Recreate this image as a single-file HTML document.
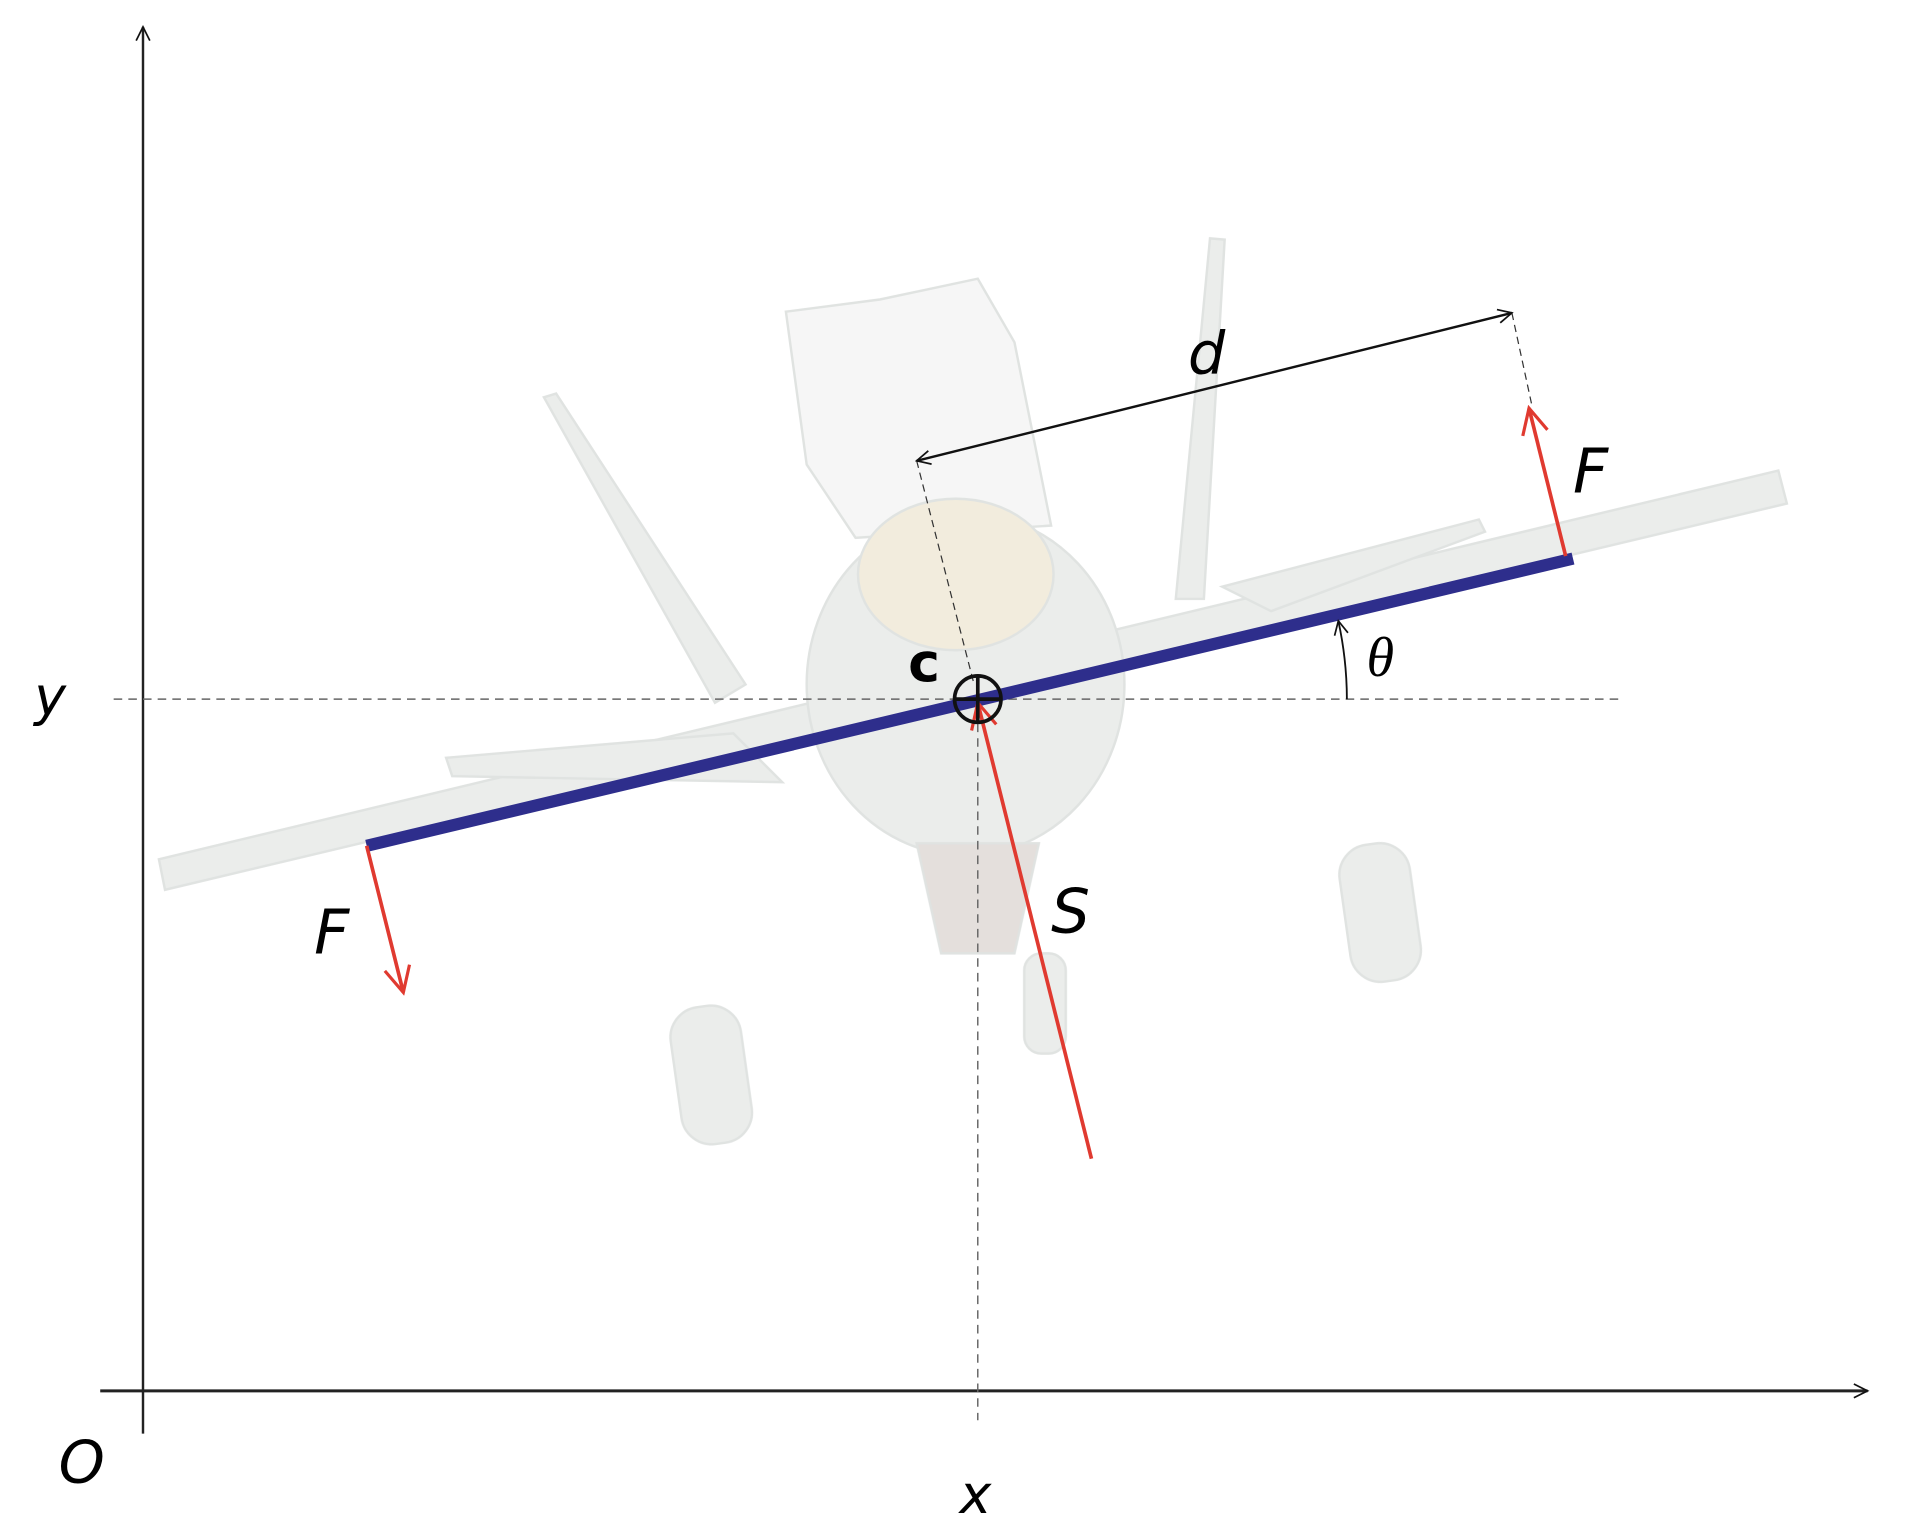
<!DOCTYPE html>
<html><head><meta charset="utf-8"><style>
html,body{margin:0;padding:0;background:#fff;}
svg{display:block;}
text{font-family:"DejaVu Sans","Liberation Sans",sans-serif;font-style:italic;}
</style></head><body>
<svg width="1914" height="1540" viewBox="0 0 1566 1260" preserveAspectRatio="none" xmlns="http://www.w3.org/2000/svg">
<defs>
<marker id="ah" viewBox="0 0 20 20" refX="18" refY="10" markerWidth="14" markerHeight="14" markerUnits="userSpaceOnUse" orient="auto-start-reverse"><path d="M2,2 L18,10 L2,18" fill="none" stroke="#111" stroke-width="2"/></marker>
<marker id="rh" viewBox="0 0 20 20" refX="18" refY="10" markerWidth="26" markerHeight="26" markerUnits="userSpaceOnUse" orient="auto"><path d="M2,2 L18,10 L2,18" fill="none" stroke="#e03a30" stroke-width="2"/></marker>
</defs>
<g fill="#e2e5e3" stroke="#d3d7d5" stroke-width="2" opacity="0.7">
<polygon points="130,703 1455,385 1462,412 135,728"/>
<polygon points="445,325 455,322 610,560 585,575"/>
<polygon points="990,195 1002,196 985,490 962,490"/>
<polygon points="643,255 720,245 800,228 830,280 860,430 700,440 660,380" fill="#f2f3f2"/>
<ellipse cx="790" cy="560" rx="130" ry="140"/>
<ellipse cx="782" cy="470" rx="80" ry="62" fill="#ece4cf"/>
<polygon points="365,620 600,600 640,640 370,635"/>
<polygon points="1000,480 1210,425 1215,435 1040,500"/>
<rect x="553" y="823" width="58" height="113" rx="25" transform="rotate(-8 582 880)"/>
<rect x="1100" y="690" width="58" height="113" rx="25" transform="rotate(-8 1130 745)"/>
<rect x="838" y="780" width="34" height="82" rx="14"/>
<polygon points="750,690 850,690 830,780 770,780" fill="#d8d2cd"/>
</g>
<line x1="117" y1="1173" x2="117" y2="22" stroke="#222" stroke-width="2" marker-end="url(#ah)"/>
<line x1="82" y1="1138" x2="1528" y2="1138" stroke="#222" stroke-width="2.5" marker-end="url(#ah)"/>
<line x1="93" y1="572" x2="1328" y2="572" stroke="#666" stroke-width="1.2" stroke-dasharray="7,5"/>
<line x1="800" y1="580" x2="800" y2="1162" stroke="#666" stroke-width="1.2" stroke-dasharray="7,5"/>
<line x1="750" y1="377" x2="797" y2="560" stroke="#333" stroke-width="1" stroke-dasharray="6,4"/>
<line x1="1237" y1="256" x2="1253" y2="330" stroke="#333" stroke-width="1" stroke-dasharray="6,4"/>
<line x1="750" y1="377" x2="1237" y2="256" stroke="#111" stroke-width="2" marker-start="url(#ah)" marker-end="url(#ah)"/>
<line x1="300" y1="692" x2="1287" y2="457" stroke="#2e2e8c" stroke-width="10"/>
<path d="M1102,572 A302,302 0 0 0 1095,508" fill="none" stroke="#111" stroke-width="1.5" marker-end="url(#ah)"/>
<line x1="1281" y1="455" x2="1251" y2="334" stroke="#e03a30" stroke-width="3" marker-end="url(#rh)"/>
<line x1="300" y1="692" x2="330" y2="812" stroke="#e03a30" stroke-width="3" marker-end="url(#rh)"/>
<line x1="893" y1="948" x2="800" y2="575" stroke="#e03a30" stroke-width="3" marker-end="url(#rh)"/>
<g stroke="#111" stroke-width="3" fill="none">
<circle cx="800" cy="572" r="19"/>
<line x1="781" y1="572" x2="819" y2="572"/><line x1="800" y1="553" x2="800" y2="591"/>
</g>
<text x="28" y="585" font-size="44">y</text>
<text x="48" y="1213" font-size="48">O</text>
<text x="785" y="1238" font-size="44">x</text>
<text x="743" y="557" font-size="44" font-weight="bold" style="font-style:normal">c</text>
<text x="972" y="306" font-size="48">d</text>
<text x="1287" y="403" font-size="50">F</text>
<text x="257" y="780" font-size="50">F</text>
<text x="860" y="763" font-size="50">S</text>
<text x="1118" y="553" font-size="46" style="font-family:'Liberation Serif',serif">θ</text>
</svg>
</body></html>
